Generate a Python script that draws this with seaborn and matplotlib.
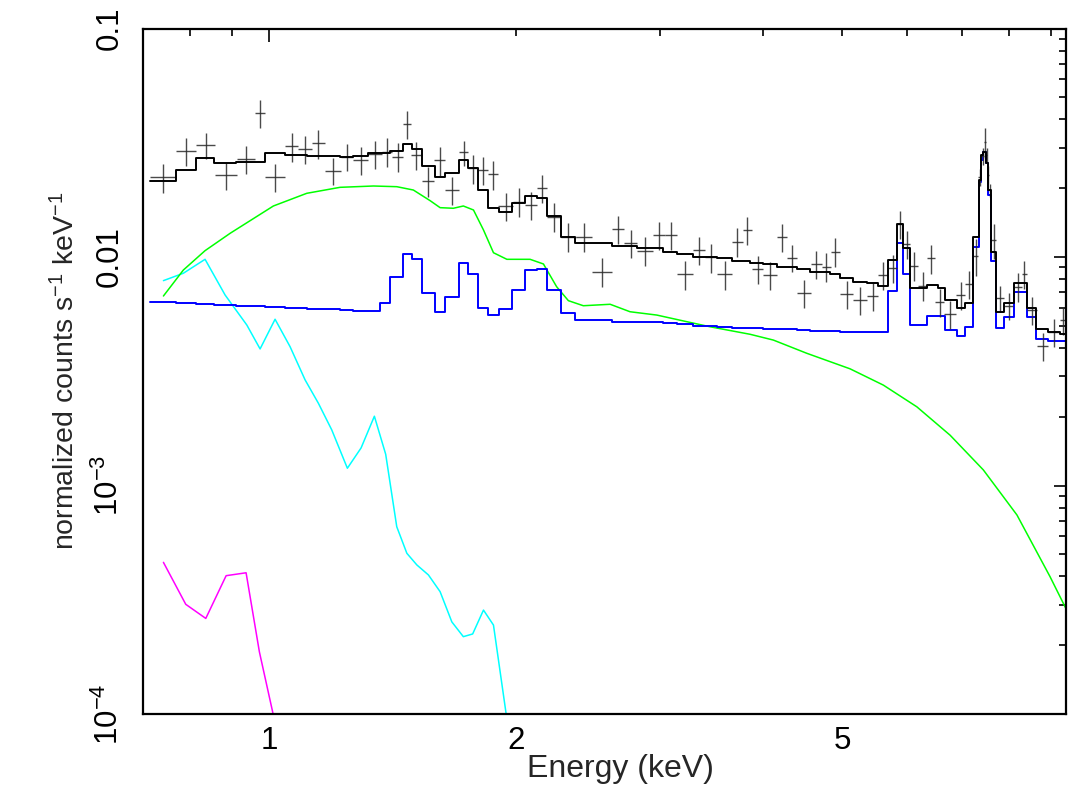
import numpy as np
import matplotlib
matplotlib.use("Agg")
import matplotlib.pyplot as plt
from matplotlib.ticker import FixedLocator, FixedFormatter
import seaborn as sns

# ---------------- data ----------------
# observed spectrum: channel edges (keV), rate and 1-sigma error
data_edges = [0.7150, 0.7694, 0.8139, 0.8585, 0.9125, 0.9606, 0.9880, 1.0451, 1.0849, 1.1266,
              1.1694, 1.2222, 1.2663, 1.3208, 1.3715, 1.4106, 1.4573, 1.4880, 1.5348, 1.5890,
              1.6388, 1.7046, 1.7498, 1.7997, 1.8510, 1.9038, 1.9822, 2.0518, 2.1205, 2.1846,
              2.2684, 2.3660, 2.4748, 2.6179, 2.7101, 2.8134, 2.9380, 3.0413, 3.1428, 3.2872,
              3.4024, 3.5227, 3.6680, 3.7833, 3.8834, 4.0087, 4.1626, 4.2810, 4.4032, 4.5803,
              4.7243, 4.8451, 4.9734, 5.1630, 5.3609, 5.5387, 5.6966, 5.8326, 5.9418, 6.0547,
              6.1970, 6.3455, 6.4953, 6.6617, 6.8904, 7.0668, 7.2337, 7.3361, 7.3982, 7.4482,
              7.4902, 7.5239, 7.5600, 7.6090, 7.7166, 7.8922, 8.0942, 8.2877, 8.4047, 8.6446,
              8.9306, 9.2290, 9.3860]
data_rate = [0.02233, 0.02910, 0.03091, 0.02285, 0.02685, 0.04280, 0.02246, 0.03059, 0.02970, 0.03144,
             0.02386, 0.02748, 0.02658, 0.02823, 0.02889, 0.02748, 0.03820, 0.02795, 0.02151, 0.02645,
             0.01958, 0.02872, 0.02445, 0.02403, 0.02301, 0.01672, 0.01746, 0.01689, 0.02010, 0.01501,
             0.01227, 0.01227, 0.00862, 0.01322, 0.01148, 0.01066, 0.01248, 0.01248, 0.00840, 0.01073,
             0.00997, 0.00840, 0.01167, 0.01313, 0.00884, 0.00834, 0.01227, 0.00993, 0.00698, 0.00932,
             0.00907, 0.01055, 0.00689, 0.00648, 0.00675, 0.00834, 0.00893, 0.01394, 0.01140, 0.00916,
             0.00749, 0.00987, 0.00637, 0.00563, 0.00682, 0.00762, 0.01010, 0.02233, 0.02767, 0.03195,
             0.02795, 0.02285, 0.01964, 0.01187, 0.00660, 0.00612, 0.00741, 0.00843, 0.00586, 0.00408,
             0.00471, 0.00530]
data_err = [0.00320, 0.00416, 0.00399, 0.00318, 0.00371, 0.00604, 0.00312, 0.00447, 0.00410, 0.00453,
            0.00313, 0.00379, 0.00369, 0.00404, 0.00413, 0.00393, 0.00550, 0.00400, 0.00314, 0.00386,
            0.00276, 0.00362, 0.00350, 0.00344, 0.00329, 0.00231, 0.00250, 0.00233, 0.00279, 0.00216,
            0.00179, 0.00177, 0.00123, 0.00182, 0.00160, 0.00152, 0.00178, 0.00178, 0.00121, 0.00153,
            0.00146, 0.00120, 0.00167, 0.00181, 0.00125, 0.00115, 0.00171, 0.00135, 0.00098, 0.00133,
            0.00130, 0.00151, 0.00099, 0.00093, 0.00097, 0.00119, 0.00123, 0.00194, 0.00163, 0.00131,
            0.00107, 0.00141, 0.00091, 0.00081, 0.00098, 0.00106, 0.00183, 0.00187, 0.00232, 0.00483,
            0.00215, 0.00208, 0.00133, 0.00203, 0.00088, 0.00082, 0.00106, 0.00117, 0.00081, 0.00056,
            0.00067, 0.00076]

# folded model (histogram bins)
model_edges = [0.7150, 0.7694, 0.8139, 0.8560, 0.9107, 0.9880, 1.0451, 1.1118, 1.2198, 1.2652,
               1.3197, 1.3650, 1.4039, 1.4561, 1.4922, 1.5339, 1.5934, 1.6388, 1.7046, 1.7498,
               1.7997, 1.8510, 1.9049, 1.9766, 2.0518, 2.1205, 2.1827, 2.2671, 2.3614, 2.6179,
               2.8087, 3.0268, 3.1428, 3.2928, 3.5167, 3.6680, 3.8616, 4.0087, 4.1626, 4.4032,
               4.5712, 4.8356, 4.9734, 5.1630, 5.3609, 5.5387, 5.6966, 5.8326, 5.9418, 6.0547,
               6.3455, 6.5557, 6.6805, 6.9039, 7.0668, 7.2276, 7.3567, 7.3982, 7.4399, 7.4966,
               7.5452, 7.6025, 7.7100, 7.8922, 8.1033, 8.4047, 8.6348, 8.9306, 9.2290, 9.3860]
model_total = [0.02158, 0.02403, 0.02704, 0.02578, 0.02604, 0.02843, 0.02795, 0.02767, 0.02731, 0.02767,
               0.02843, 0.02843, 0.02919, 0.03113, 0.02970, 0.02502, 0.02246, 0.02338, 0.02658, 0.02445,
               0.01964, 0.01634, 0.01579, 0.01718, 0.01849, 0.01818, 0.01512, 0.01227, 0.01148, 0.01120,
               0.01092, 0.01055, 0.01031, 0.01003, 0.00987, 0.00963, 0.00944, 0.00932, 0.00907, 0.00886,
               0.00862, 0.00843, 0.00807, 0.00780, 0.00767, 0.00749, 0.00970, 0.01394, 0.01092, 0.00730,
               0.00754, 0.00730, 0.00648, 0.00596, 0.00627, 0.01227, 0.02173, 0.02795, 0.02889, 0.02570,
               0.01964, 0.01055, 0.00576, 0.00627, 0.00772, 0.00596, 0.00483, 0.00468, 0.00459]
model_lines = [0.00635, 0.00627, 0.00621, 0.00617, 0.00611, 0.00603, 0.00598, 0.00590, 0.00586, 0.00583,
               0.00582, 0.00627, 0.00820, 0.01031, 0.00977, 0.00698, 0.00576, 0.00670, 0.00944, 0.00843,
               0.00600, 0.00557, 0.00590, 0.00717, 0.00877, 0.00884, 0.00717, 0.00567, 0.00530, 0.00522,
               0.00517, 0.00513, 0.00507, 0.00499, 0.00495, 0.00491, 0.00489, 0.00486, 0.00483, 0.00478,
               0.00476, 0.00473, 0.00471, 0.00468, 0.00468, 0.00470, 0.00712, 0.01155, 0.00843, 0.00504,
               0.00552, 0.00552, 0.00479, 0.00451, 0.00492, 0.01110, 0.02135, 0.02658, 0.02889, 0.02570,
               0.01867, 0.00963, 0.00487, 0.00548, 0.00705, 0.00548, 0.00438, 0.00429, 0.00429]

# continuum components (line curves)
green_e = [0.7424, 0.7852, 0.8346, 0.8956, 1.0113, 1.1108, 1.2198, 1.3397, 1.4305, 1.4988,
           1.5712, 1.6159, 1.6772, 1.7249, 1.7748, 1.8254, 1.8774, 1.9495, 2.0809, 2.1605,
           2.2422, 2.3174, 2.4169, 2.6062, 2.7559, 2.9715, 3.2021, 3.4514, 3.8616, 4.1230,
           4.5290, 5.1159, 5.6171, 6.1714, 6.7763, 7.4399, 8.1771, 8.9743, 9.3860]
green_v = [0.00675, 0.00877, 0.01066, 0.01270, 0.01672, 0.01900, 0.02018, 0.02045, 0.02031, 0.01964,
           0.01764, 0.01644, 0.01634, 0.01672, 0.01606, 0.01313, 0.01044, 0.00977, 0.00977, 0.00932,
           0.00741, 0.00644, 0.00612, 0.00621, 0.00576, 0.00557, 0.00525, 0.00495, 0.00459, 0.00433,
           0.00379, 0.00324, 0.00275, 0.00221, 0.00166, 0.00117, 0.000743, 0.000399, 0.000289]

cyan_e = [0.7424, 0.7852, 0.8346, 0.8829, 0.9385, 0.9742, 1.0161, 1.0599, 1.1055, 1.1477,
          1.1917, 1.2451, 1.2940, 1.3433, 1.3867, 1.4305, 1.4717, 1.5137, 1.5637, 1.6159,
          1.6700, 1.7249, 1.7707, 1.8254, 1.8774, 2.0000]
cyan_v = [0.00788, 0.00849, 0.00977, 0.00682, 0.00504, 0.00396, 0.00534, 0.00405, 0.00290, 0.00229,
          0.00175, 0.00119, 0.00146, 0.00201, 0.00137, 0.000660, 0.000505, 0.000449, 0.000406, 0.000343,
          0.000253, 0.000218, 0.000224, 0.000285, 0.000245, 0.000050]

magenta_e = [0.7424, 0.7905, 0.8363, 0.8855, 0.9366, 0.9723, 1.0600]
magenta_v = [0.000461, 0.000302, 0.000262, 0.000403, 0.000415, 0.000187, 0.000046]

x_major = [1.0]
x_major_labels = ["1"]
x_minor = [0.8, 0.9, 2, 3, 4, 5, 6, 7, 8, 9]
x_minor_labels = ["", "", "2", "", "", "5", "", "", "", ""]
y_major = [1e-4, 1e-3, 1e-2, 1e-1]
y_major_labels = [r"$10^{-4}$", r"$10^{-3}$", "0.01", "0.1"]

# ---------------- style ----------------
sns.set_style("white")
plt.rcParams["font.family"] = ["Liberation Sans", "DejaVu Sans"]
plt.rcParams["mathtext.fontset"] = "custom"
plt.rcParams["mathtext.rm"] = "Liberation Sans"
plt.rcParams["mathtext.it"] = "Liberation Sans"
plt.rcParams["mathtext.default"] = "regular"

fig = plt.figure(figsize=(10.68, 7.85), dpi=100)
ax = fig.add_axes([142.5 / 1068, 71 / 785, 923.5 / 1068, 685.5 / 785])
ax.set_xscale("log")
ax.set_yscale("log")


def stairs(edges, vals, color, lw):
    x = np.asarray(edges, dtype=float)
    y = np.append(np.asarray(vals, dtype=float), vals[-1])
    sns.lineplot(x=x, y=y, ax=ax, color=color, lw=lw, drawstyle="steps-post",
                 estimator=None, sort=False, legend=False)


# component curves
sns.lineplot(x=magenta_e, y=magenta_v, ax=ax, color="#ff00ff", lw=1.1,
             estimator=None, sort=False, legend=False)
sns.lineplot(x=cyan_e, y=cyan_v, ax=ax, color="#00ffff", lw=1.1,
             estimator=None, sort=False, legend=False)
sns.lineplot(x=green_e, y=green_v, ax=ax, color="#00ff00", lw=1.1,
             estimator=None, sort=False, legend=False)
stairs(model_edges, model_lines, "#0000ff", 1.4)

# data crosses
de = np.asarray(data_edges)
xc = 0.5 * (de[:-1] + de[1:])
xe = 0.5 * (de[1:] - de[:-1])
ax.errorbar(xc, data_rate, xerr=xe, yerr=data_err, fmt="none",
            ecolor="#2a2a2a", elinewidth=1.0, capsize=0, alpha=0.85)

stairs(model_edges, model_total, "#000000", 1.4)

ax.set_xlim(0.700, 9.386)
ax.set_ylim(1e-4, 0.1)

ax.xaxis.set_major_locator(FixedLocator(x_major))
ax.xaxis.set_major_formatter(FixedFormatter(x_major_labels))
ax.xaxis.set_minor_locator(FixedLocator(x_minor))
ax.xaxis.set_minor_formatter(FixedFormatter(x_minor_labels))

y_minor = [m * d for d in (1e-4, 1e-3, 1e-2) for m in range(2, 10)]
ax.yaxis.set_major_locator(FixedLocator(y_major))
ax.yaxis.set_major_formatter(FixedFormatter(y_major_labels))
ax.yaxis.set_minor_locator(FixedLocator(y_minor))
ax.yaxis.set_minor_formatter(FixedFormatter([""] * len(y_minor)))

ax.tick_params(which="both", direction="in", top=True, right=True, colors="black",
               width=1.2, labelsize=22.5)
ax.tick_params(which="major", length=9)
ax.tick_params(which="minor", length=4.7)
ax.tick_params(axis="x", which="both", pad=8.5)
ax.tick_params(axis="y", which="both", pad=12.5, labelrotation=90)
for lab in ax.get_yticklabels():
    lab.set_va("center")

for s in ax.spines.values():
    s.set_linewidth(1.6)
    s.set_color("black")
    s.set_visible(True)

ax.set_xlabel("Energy (keV)", fontsize=23)
ax.xaxis.set_label_coords(0.517, -0.059)
ax.set_ylabel(r"normalized counts s$^{-1}$ keV$^{-1}$", fontsize=20.5)
ax.yaxis.set_label_coords(-0.067, 0.5)

fig.savefig("out.png", dpi=100)
